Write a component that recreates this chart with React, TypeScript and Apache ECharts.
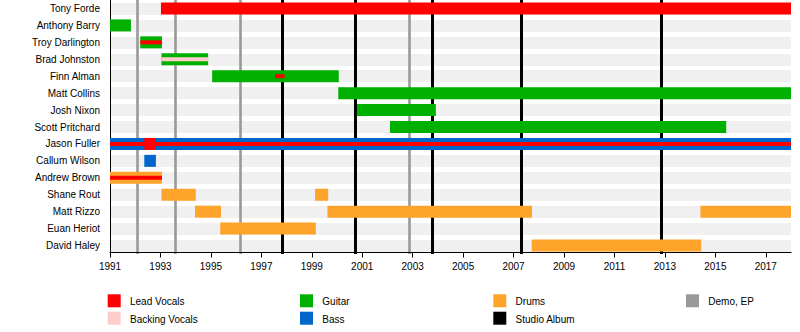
import React, { useEffect, useRef } from "react";
import * as echarts from "echarts";

const members = [
  "Tony Forde", "Anthony Barry", "Troy Darlington", "Brad Johnston", "Finn Alman",
  "Matt Collins", "Josh Nixon", "Scott Pritchard", "Jason Fuller", "Callum Wilson",
  "Andrew Brown", "Shane Rout", "Matt Rizzo", "Euan Heriot", "David Haley",
];

const startYear = 1991;
const endYear = 2018;
const tickYears = [1991, 1993, 1995, 1997, 1999, 2001, 2003, 2005, 2007, 2009, 2011, 2013, 2015, 2017];

// [member, start, end]
const leadVocals = [
  ["Tony Forde", 1993.02, 2018],
  ["Jason Fuller", 1992.36, 1992.82],
];
const leadVocalStripes = [
  ["Troy Darlington", 1992.2, 1993.06],
  ["Finn Alman", 1997.55, 1997.92],
  ["Jason Fuller", 1991, 2018],
  ["Andrew Brown", 1991, 1993.06],
];
const backingVocalStripes = [
  ["Brad Johnston", 1993.04, 1994.89],
];
const guitar = [
  ["Anthony Barry", 1991, 1991.83],
  ["Troy Darlington", 1992.2, 1993.06],
  ["Brad Johnston", 1993.04, 1994.89],
  ["Finn Alman", 1995.05, 2000.07],
  ["Matt Collins", 2000.05, 2018],
  ["Josh Nixon", 2000.79, 2003.92],
  ["Scott Pritchard", 2002.1, 2015.43],
];
const bass = [
  ["Jason Fuller", 1991, 2018],
  ["Callum Wilson", 1992.36, 1992.82],
];
const drums = [
  ["Andrew Brown", 1991, 1993.06],
  ["Shane Rout", 1993.04, 1994.4],
  ["Shane Rout", 1999.13, 1999.65],
  ["Matt Rizzo", 1994.37, 1995.4],
  ["Matt Rizzo", 1999.62, 2007.73],
  ["Matt Rizzo", 2014.41, 2018],
  ["Euan Heriot", 1995.37, 1999.16],
  ["David Haley", 2007.72, 2014.44],
];
const demoReleases = [1992.07, 1993.58, 1996.15, 2002.86];
const studioAlbums = [1997.82, 2000.73, 2003.78, 2007.3, 2012.85];

const legendRows = [
  ["Lead Vocals", "Guitar", "Drums", "Demo, EP"],
  ["Backing Vocals", "Bass", "Studio Album"],
];

const COLORS: Record<string, string> = {
  "Lead Vocals": "#ff0000",
  "Backing Vocals": "#ffcccc",
  Guitar: "#00b000",
  Bass: "#0066cc",
  Drums: "#ffa42a",
  "Demo, EP": "#999999",
  "Studio Album": "#000000",
  band: "#f0f0f0",
};

const FONT = "Liberation Sans, Arial, sans-serif";

function markerAxis(values: number[], color: string, width: number) {
  return {
    type: "value",
    min: startYear,
    max: endYear,
    position: "bottom",
    z: 2,
    axisLine: { show: false, onZero: false },
    axisTick: { show: false, customValues: values },
    axisLabel: { show: false, customValues: values },
    splitLine: { show: true, lineStyle: { color, width, type: "solid" } },
  };
}

export default function App() {
  const ref = useRef<HTMLDivElement>(null);
  useEffect(() => {
    document.body.style.margin = "0";
    if (!ref.current) return;
    const chart = echarts.init(ref.current, undefined, { renderer: "svg" });

    const layers: [any[], string, number][] = [
      [guitar, COLORS.Guitar, 12],
      [bass, COLORS.Bass, 12],
      [drums, COLORS.Drums, 12],
      [leadVocals, COLORS["Lead Vocals"], 12],
      [leadVocalStripes, COLORS["Lead Vocals"], 4],
      [backingVocalStripes, COLORS["Backing Vocals"], 4],
    ];
    const items: any[] = [];
    layers.forEach((layer, li) => {
      layer[0].forEach((d) => items.push([d[0], d[1], d[2], li]));
    });
    const rowIndices = members.map((_, i) => i);

    const legendGraphics: any[] = [];
    const colX = [107.7, 300, 493.3, 686];
    const swatchY = [294.3, 311.7];
    const textY = [301.7, 319];
    legendRows.forEach((row, ri) => {
      row.forEach((label, ci) => {
        legendGraphics.push({
          type: "rect",
          shape: { x: colX[ci], y: swatchY[ri], width: 13, height: 13 },
          style: { fill: COLORS[label] },
        });
        legendGraphics.push({
          type: "text",
          x: colX[ci] + 22.3,
          y: textY[ri],
          style: {
            text: label,
            fill: "#000",
            font: `10px ${FONT}`,
            verticalAlign: "middle",
            align: "left",
          },
        });
      });
    });

    chart.setOption({
      animation: false,
      grid: { left: 110, right: 9, top: -1.7, bottom: 78 },
      xAxis: [
        {
          type: "value",
          min: startYear,
          max: endYear,
          position: "bottom",
          offset: -1.5,
          z: 3,
          splitLine: { show: false },
          axisLine: { show: true, onZero: false, lineStyle: { color: "#000", width: 1 } },
          axisTick: { show: true, length: 5, lineStyle: { color: "#000" }, customValues: tickYears },
          axisLabel: {
            customValues: tickYears,
            color: "#000",
            fontSize: 10,
            fontFamily: FONT,
            margin: 9,
            formatter: (v: number) => String(v),
          },
        },
        markerAxis(demoReleases, COLORS["Demo, EP"], 2.6),
        markerAxis(studioAlbums, COLORS["Studio Album"], 3),
      ],
      yAxis: [
        {
          type: "category",
          data: members,
          inverse: true,
          z: 3,
          axisLine: { show: true, onZero: false, lineStyle: { color: "#000", width: 1 } },
          axisTick: { show: false },
          splitLine: { show: false },
          axisLabel: { color: "#000", fontSize: 10, fontFamily: FONT, margin: 10 },
        },
        {
          type: "value",
          min: -0.5,
          max: members.length - 0.5,
          inverse: true,
          position: "right",
          z: 1,
          axisLine: { show: false, onZero: false },
          axisTick: { show: false, customValues: rowIndices },
          axisLabel: { show: false, customValues: rowIndices },
          splitLine: { show: true, lineStyle: { color: COLORS.band, width: 12, type: "solid" } },
        },
      ],
      graphic: legendGraphics,
      series: [
        {
          type: "custom",
          name: "timeline",
          clip: false,
          z: 5,
          data: items,
          encode: { x: [1, 2], y: 0 },
          renderItem: (params: any, api: any) => {
            const [, color, size] = layers[api.value(3)];
            const p0 = api.coord([api.value(1), api.value(0)]);
            const p1 = api.coord([api.value(2), api.value(0)]);
            return {
              type: "rect",
              z2: api.value(3),
              shape: { x: p0[0], y: p0[1] - size / 2, width: p1[0] - p0[0], height: size },
              style: { fill: color },
            };
          },
        },
      ],
    });
    return () => chart.dispose();
  }, []);
  return <div ref={ref} style={{ width: 800, height: 332 }} />;
}
